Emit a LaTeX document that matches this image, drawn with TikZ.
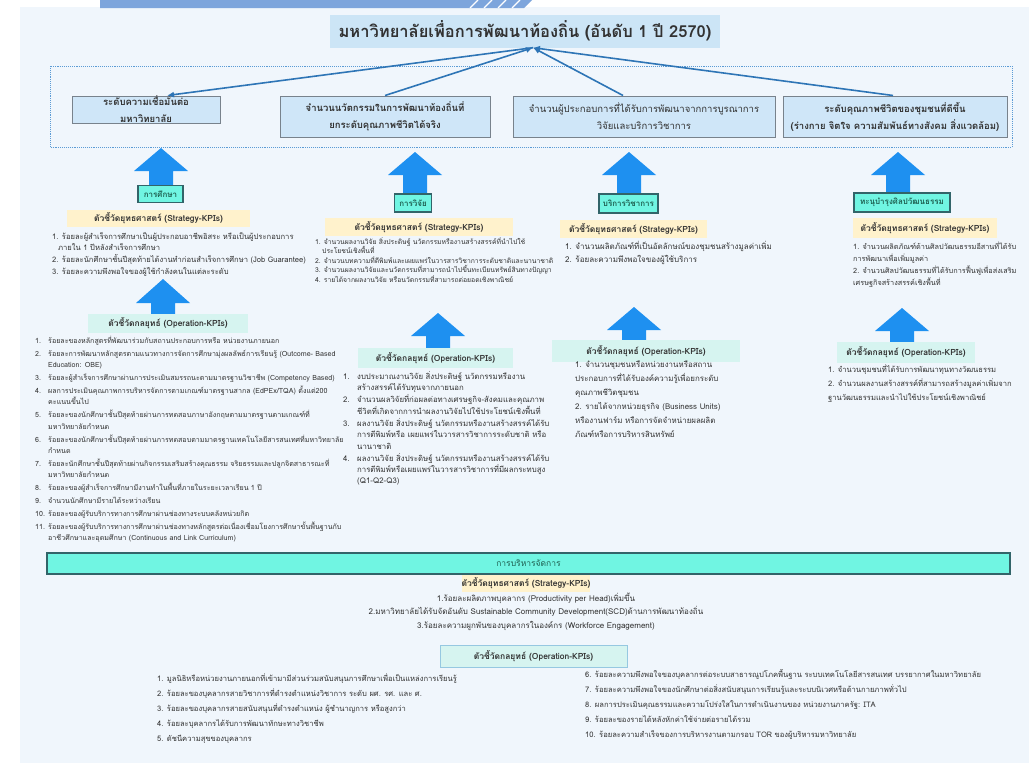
\documentclass[tikz,border=0pt]{standalone}
\usepackage{fontspec}
\setmainfont[Script=Thai]{Loma}
\usetikzlibrary{arrows.meta}

\definecolor{bgblue}{RGB}{240,246,252}
\definecolor{barblue}{RGB}{125,165,220}
\definecolor{titleblue}{RGB}{204,229,246}
\definecolor{boxblue}{RGB}{207,230,248}
\definecolor{boxgray}{RGB}{120,130,140}
\definecolor{frameblue}{RGB}{91,155,213}
\definecolor{linkblue}{RGB}{46,117,182}
\definecolor{arrblue}{RGB}{30,144,240}
\definecolor{aqua}{RGB}{112,245,226}
\definecolor{aquaedge}{RGB}{50,100,105}
\definecolor{aquatext}{RGB}{30,95,80}
\definecolor{stratyellow}{RGB}{255,242,204}
\definecolor{opmint}{RGB}{214,244,240}
\definecolor{opedge}{RGB}{150,200,225}
\definecolor{txtdark}{RGB}{50,50,50}

% big block arrow: x, tip y, head base y, bottom y
\newcommand{\bigup}[4]{%
  \fill[arrblue] (#1-27,#3) -- (#1,#2) -- (#1+27,#3) -- (#1+12,#3)
    -- (#1+12,#4) -- (#1-12,#4) -- (#1-12,#3) -- cycle;}
\newcommand{\kn}[1]{\makebox[13pt][l]{#1}}

\tikzset{
  titlebox/.style={fill=titleblue, minimum width=390pt, minimum height=33pt,
    font=\bfseries\fontsize{16.5}{18}\selectfont, text=txtdark},
  topbox/.style={draw=boxgray, fill=boxblue, line width=1pt, align=center,
    font=\bfseries\fontsize{9.5}{17}\selectfont, text=txtdark, inner sep=0pt},
  link/.style={-{Latex[length=7pt,width=6pt]}, linkblue, line width=1.6pt},
  catbox/.style={draw=aquaedge, fill=aqua, line width=1.2pt, text=aquatext,
    font=\bfseries\fontsize{8}{10}\selectfont, minimum height=17pt, inner sep=0pt},
  stratband/.style={fill=stratyellow, font=\bfseries\fontsize{8.5}{10}\selectfont,
    text=txtdark, minimum height=17pt, inner sep=0pt},
  opband/.style={fill=opmint, font=\bfseries\fontsize{8.5}{10}\selectfont,
    text=txtdark, minimum height=19pt, inner sep=0pt},
  kpilist/.style={anchor=north west, align=left, inner sep=0pt, text=txtdark}
}

\begin{document}
\begin{tikzpicture}[x=1pt,y=-1pt]
  \useasboundingbox (0,0) rectangle (1029,763);
  \fill[white] (0,0) rectangle (1029,763);
  \fill[bgblue] (20,7) rectangle (1029,763);
  \fill[barblue] (100,0) -- (532,0) -- (524,8) -- (100,8) -- cycle;
  \foreach \sx in {470,484,498,512}
    \draw[white, line width=1.2pt] (\sx,8) -- (\sx+8,0);

  % title and results
  \node[titlebox] (title) at (525,31) {มหาวิทยาลัยเพื่อการพัฒนาท้องถิ่น (อันดับ 1 ปี 2570)};
  \draw[frameblue, densely dotted, line width=0.9pt] (50,66) rectangle (1012,147);
  \node[topbox, minimum width=148pt, minimum height=27pt] (kr1) at (146,109.5)
    {ระดับความเชื่อมั่นต่อ\\มหาวิทยาลัย};
  \node[topbox, minimum width=210pt, minimum height=41pt] (kr2) at (385,116.5)
    {จำนวนนวัตกรรมในการพัฒนาท้องถิ่นที่\\ยกระดับคุณภาพชีวิตได้จริง};
  \node[topbox, font=\mdseries\fontsize{9.5}{17}\selectfont, minimum width=262pt,
    minimum height=41pt] (kr3) at (644,116.5)
    {จำนวนผู้ประกอบการที่ได้รับการพัฒนาจากการบูรณาการ\\วิจัยและบริการวิชาการ};
  \node[topbox, minimum width=224pt, minimum height=41pt] (kr4) at (895,116.5)
    {ระดับคุณภาพชีวิตของชุมชนที่ดีขึ้น\\(ร่างกาย จิตใจ ความสัมพันธ์ทางสังคม สิ่งแวดล้อม)};
  \draw[link, {Latex[length=7pt,width=6pt]}-] ([xshift=21pt]kr1.north) -- ([xshift=8pt]title.south);
  \draw[link] (kr2.north) -- ([xshift=8pt]title.south);
  \draw[link] ([xshift=-21pt]kr3.north) -- ([xshift=8pt]title.south);
  \draw[link] ([xshift=-2pt]kr4.north) -- ([xshift=8pt]title.south);

  % education
  \bigup{161}{148}{171}{187}
  \node[catbox, minimum width=45pt] (edu) at (160.5,194) {การศึกษา};
  \node[stratband, minimum width=183pt] (sedu) at (158.5,218) {ตัวชี้วัดยุทธศาสตร์ (Strategy-KPIs)};
  \node[kpilist, font=\fontsize{7.6}{11.7}\selectfont] (ledu) at (52,232)
    {1. ร้อยละผู้สำเร็จการศึกษาเป็นผู้ประกอบอาชีพอิสระ หรือเป็นผู้ประกอบการ\\
     \hspace*{6pt}ภายใน 1 ปีหลังสำเร็จการศึกษา\\
     2. ร้อยละนักศึกษาชั้นปีสุดท้ายได้งานทำก่อนสำเร็จการศึกษา (Job Guarantee)\\
     3. ร้อยละความพึงพอใจของผู้ใช้กำลังคนในแต่ละระดับ};
  \bigup{163}{279}{303}{316}
  \node[opband, minimum width=160pt] (oedu) at (168,323.5) {ตัวชี้วัดกลยุทธ์ (Operation-KPIs)};
  \node[kpilist, font=\fontsize{7.1}{11.2}\selectfont] (lopedu) at (35,336)
    {\kn{1.}ร้อยละของหลักสูตรที่พัฒนาร่วมกับสถานประกอบการหรือ หน่วยงานภายนอก\\[1.8pt]
     \kn{2.}ร้อยละการพัฒนาหลักสูตรตามแนวทางการจัดการศึกษามุ่งผลลัพธ์การเรียนรู้ (Outcome- Based\\
     \kn{}Education: OBE)\\[1.8pt]
     \kn{3.}ร้อยละผู้สำเร็จการศึกษาผ่านการประเมินสมรรถนะตามมาตรฐานวิชาชีพ (Competency Based)\\[1.8pt]
     \kn{4.}ผลการประเมินคุณภาพการบริหารจัดการตามเกณฑ์มาตรฐานสากล (EdPEx/TQA) ตั้งแต่200\\
     \kn{}คะแนนขึ้นไป\\[1.8pt]
     \kn{5.}ร้อยละของนักศึกษาชั้นปีสุดท้ายผ่านการทดสอบภาษาอังกฤษตามมาตรฐานตามเกณฑ์ที่\\
     \kn{}มหาวิทยาลัยกำหนด\\[1.8pt]
     \kn{6.}ร้อยละของนักศึกษาชั้นปีสุดท้ายผ่านการทดสอบตามมาตรฐานเทคโนโลยีสารสนเทศที่มหาวิทยาลัย\\
     \kn{}กำหนด\\[1.8pt]
     \kn{7.}ร้อยละนักศึกษาชั้นปีสุดท้ายผ่านกิจกรรมเสริมสร้างคุณธรรม จริยธรรมและปลูกจิตสาธารณะที่\\
     \kn{}มหาวิทยาลัยกำหนด\\[1.8pt]
     \kn{8.}ร้อยละของผู้สำเร็จการศึกษามีงานทำในพื้นที่ภายในระยะเวลาเรียน 1 ปี\\[1.8pt]
     \kn{9.}จำนวนนักศึกษามีรายได้ระหว่างเรียน\\[1.8pt]
     \kn{10.}ร้อยละของผู้รับบริการทางการศึกษาผ่านช่องทางระบบคลังหน่วยกิต\\[1.8pt]
     \kn{11.}ร้อยละของผู้รับบริการทางการศึกษาผ่านช่องทางหลักสูตรต่อเนื่องเชื่อมโยงการศึกษาขั้นพื้นฐานกับ\\
     \kn{}อาชีวศึกษาและอุดมศึกษา (Continuous and Link Curriculum)};

  % research
  \bigup{415}{152}{175}{195}
  \node[catbox, minimum width=37pt, minimum height=18pt] (res) at (413,203) {การวิจัย};
  \node[stratband, minimum width=188pt, minimum height=18pt] (sres) at (419,227) {ตัวชี้วัดยุทธศาสตร์ (Strategy-KPIs)};
  \node[kpilist, font=\fontsize{6.8}{9.6}\selectfont] (lres) at (315,237)
    {1. จำนวนผลงานวิจัย สิ่งประดิษฐ์ นวัตกรรมหรืองานสร้างสรรค์ที่นำไปใช้\\
     \hspace*{7pt}ประโยชน์เชิงพื้นที่\\
     2. จำนวนบทความที่ตีพิมพ์และเผยแพร่ในวารสารวิชาการระดับชาติและนานาชาติ\\
     3. จำนวนผลงานวิจัยและนวัตกรรมที่สามารถนำไปขึ้นทะเบียนทรัพย์สินทางปัญญา\\
     4. รายได้จากผลงานวิจัย หรือนวัตกรรมที่สามารถต่อยอดเชิงพาณิชย์};
  \bigup{438}{313}{336}{349}
  \node[opband, minimum width=155pt, minimum height=20pt] (ores) at (435.5,358) {ตัวชี้วัดกลยุทธ์ (Operation-KPIs)};
  \node[kpilist, font=\fontsize{7.8}{11.3}\selectfont] (lopres) at (343,371)
    {\makebox[14pt][l]{1.}งบประมาณงานวิจัย สิ่งประดิษฐ์ นวัตกรรมหรืองาน\\
     \hspace*{14pt}สร้างสรรค์ได้รับทุนจากภายนอก\\[1pt]
     \makebox[14pt][l]{2.}จำนวนผลวิจัยที่ก่อผลต่อทางเศรษฐกิจ-สังคมและคุณภาพ\\
     \hspace*{14pt}ชีวิตที่เกิดจากการนำผลงานวิจัยไปใช้ประโยชน์เชิงพื้นที่\\[1pt]
     \makebox[14pt][l]{3.}ผลงานวิจัย สิ่งประดิษฐ์ นวัตกรรมหรืองานสร้างสรรค์ได้รับ\\
     \hspace*{14pt}การตีพิมพ์หรือ เผยแพร่ในวารสารวิชาการระดับชาติ หรือ\\
     \hspace*{14pt}นานาชาติ\\[1pt]
     \makebox[14pt][l]{4.}ผลงานวิจัย สิ่งประดิษฐ์ นวัตกรรมหรืองานสร้างสรรค์ได้รับ\\
     \hspace*{14pt}การตีพิมพ์หรือเผยแพร่ในวารสารวิชาการที่มีผลกระทบสูง\\
     \hspace*{14pt}(Q1-Q2-Q3)};

  % academic service
  \bigup{629}{152}{175}{195}
  \node[catbox, minimum width=59pt, minimum height=19pt] (srv) at (628.5,203.5) {บริการวิชาการ};
  \node[stratband, minimum width=147pt, minimum height=18pt] (ssrv) at (633.5,229) {ตัวชี้วัดยุทธศาสตร์ (Strategy-KPIs)};
  \node[kpilist, font=\fontsize{8}{13}\selectfont] (lsrv) at (565,241)
    {1. จำนวนผลิตภัณฑ์ที่เป็นอัตลักษณ์ของชุมชนสร้างมูลค่าเพิ่ม\\
     2. ร้อยละความพึงพอใจของผู้ใช้บริการ};
  \bigup{634}{307}{330}{342}
  \node[opband, minimum width=188pt, minimum height=22pt] (osrv) at (646,351) {ตัวชี้วัดกลยุทธ์ (Operation-KPIs)};
  \node[kpilist, font=\fontsize{7.9}{14}\selectfont] (lopsrv) at (575,361)
    {1. จำนวนชุมชนหรือหน่วยงานหรือสถาน\\
     ประกอบการที่ได้รับองค์ความรู้เพื่อยกระดับ\\
     คุณภาพชีวิตชุมชน\\
     2. รายได้จากหน่วยธุรกิจ (Business Units)\\
     หรืองานฟาร์ม หรือการจัดจำหน่ายผลผลิต\\
     ภัณฑ์หรือการบริหารสินทรัพย์};

  % arts and culture
  \bigup{898}{152}{175}{194}
  \node[catbox, minimum width=96pt, minimum height=19pt] (cul) at (902,202.5) {ทะนุบำรุงศิลปวัฒนธรรม};
  \node[stratband, minimum width=144pt, minimum height=20pt] (scul) at (925,228) {ตัวชี้วัดยุทธศาสตร์ (Strategy-KPIs)};
  \node[kpilist, font=\fontsize{7.3}{12}\selectfont] (lcul) at (853,242)
    {1. จำนวนผลิตภัณฑ์ด้านศิลปวัฒนธรรมอีสานที่ได้รับ\\
     การพัฒนาเพื่อเพิ่มมูลค่า\\
     2. จำนวนศิลปวัฒนธรรมที่ได้รับการฟื้นฟูเพื่อส่งเสริม\\
     เศรษฐกิจสร้างสรรค์เชิงพื้นที่};
  \bigup{902}{308}{331}{344}
  \node[opband, minimum width=138pt, minimum height=21pt] (ocul) at (906,352.5) {ตัวชี้วัดกลยุทธ์ (Operation-KPIs)};
  \node[kpilist, font=\fontsize{7.6}{14}\selectfont] (lopcul) at (828,364)
    {1. จำนวนชุมชนที่ได้รับการพัฒนาทุนทางวัฒนธรรม\\
     2. จำนวนผลงานสร้างสรรค์ที่สามารถสร้างมูลค่าเพิ่มจาก\\
     ฐานวัฒนธรรมและนำไปใช้ประโยชน์เชิงพาณิชย์};

  % management
  \node[catbox, minimum width=963pt, minimum height=21pt, font=\fontsize{8.5}{10}\selectfont]
    (mgt) at (528.5,563.5) {การบริหารจัดการ};
  \node[stratband, minimum width=128pt] (smgt) at (526,583.5) {ตัวชี้วัดยุทธศาสตร์ (Strategy-KPIs)};
  \node[anchor=north, align=center, inner sep=0pt, text=txtdark,
    font=\fontsize{8}{13.3}\selectfont] (lmgt) at (536,593)
    {1.ร้อยละผลิตภาพบุคลากร (Productivity per Head)เพิ่มขึ้น\\
     2.มหาวิทยาลัยได้รับจัดอันดับ Sustainable Community Development(SCD)ด้านการพัฒนาท้องถิ่น\\
     3.ร้อยละความผูกพันของบุคลากรในองค์กร (Workforce Engagement)};
  \node[opband, draw=opedge, line width=0.8pt, minimum width=187pt, minimum height=22pt]
    (omgt) at (533.5,656) {ตัวชี้วัดกลยุทธ์ (Operation-KPIs)};
  \node[kpilist, font=\fontsize{7.6}{15}\selectfont] (lopmgt) at (157,673)
    {1. มูลนิธิหรือหน่วยงานภายนอกที่เข้ามามีส่วนร่วมสนับสนุนการศึกษาเพื่อเป็นแหล่งการเรียนรู้\\
     2. ร้อยละของบุคลากรสายวิชาการที่ดำรงตำแหน่งวิชาการ ระดับ ผศ. รศ. และ ศ.\\
     3. ร้อยละของบุคลากรสายสนับสนุนที่ดำรงตำแหน่ง ผู้ชำนาญการ หรือสูงกว่า\\
     4. ร้อยละบุคลากรได้รับการพัฒนาทักษะทางวิชาชีพ\\
     5. ดัชนีความสุขของบุคลากร};
  \node[kpilist, font=\fontsize{7.6}{15}\selectfont] (lopmgt2) at (585,669)
    {6. ร้อยละความพึงพอใจของบุคลากรต่อระบบสาธารณูปโภคพื้นฐาน ระบบเทคโนโลยีสารสนเทศ บรรยากาศในมหาวิทยาลัย\\
     7. ร้อยละความพึงพอใจของนักศึกษาต่อสิ่งสนับสนุนการเรียนรู้และระบบนิเวศหรือด้านกายภาพทั่วไป\\
     8. ผลการประเมินคุณธรรมและความโปร่งใสในการดำเนินงานของ หน่วยงานภาครัฐ: ITA\\
     9. ร้อยละของรายได้หลังหักค่าใช้จ่ายต่อรายได้รวม\\
     10. ร้อยละความสำเร็จของการบริหารงานตามกรอบ TOR ของผู้บริหารมหาวิทยาลัย};
\end{tikzpicture}
\end{document}
